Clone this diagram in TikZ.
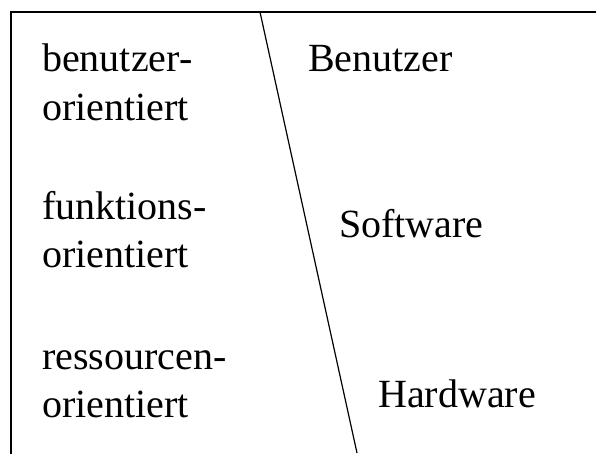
\documentclass[tikz,border=0pt]{standalone}
\usepackage{fontspec}
\setmainfont{Liberation Serif}
\begin{document}
\begin{tikzpicture}[x=1pt,y=-1pt,
  frame/.style={line width=1.5pt, line cap=rect},
  divider/.style={line width=1.2pt},
  lbl/.style={anchor=base west, inner sep=0pt, font=\fontsize{40}{48}\selectfont}]
  \useasboundingbox (0,0) rectangle (596,453);
  % frame: top edge and left edge
  \coordinate (tl) at (11,12);
  \coordinate (tr) at (596,12);
  \coordinate (bl) at (11,453);
  \draw[frame] (bl) -- (tl) -- (tr);
  % slanted divider
  \coordinate (dtop) at (260,12);
  \coordinate (dbot) at (357,453);
  \draw[divider] (dtop) -- (dbot);
  % orientations
  \node[lbl] (b1) at (42,71.5) {benutzer-};
  \node[lbl] (b2) at (42,120) {orientiert};
  \node[lbl] (f1) at (42,219) {funktions-};
  \node[lbl] (f2) at (42,267) {orientiert};
  \node[lbl] (r1) at (42,369) {ressourcen-};
  \node[lbl] (r2) at (42,417) {orientiert};
  % layers
  \node[lbl] (ben) at (308,71) {Benutzer};
  \node[lbl] (sw) at (339,237) {Software};
  \node[lbl] (hw) at (378,407) {Hardware};
\end{tikzpicture}
\end{document}
